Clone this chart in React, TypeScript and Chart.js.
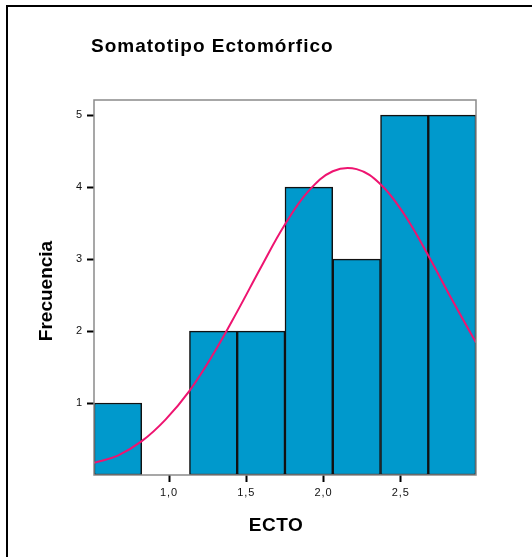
import React, { useEffect, useRef } from 'react';
import { Chart, registerables } from 'chart.js';

Chart.register(...registerables);

const binEdges = [0.514, 0.823, 1.132, 1.441, 1.75, 2.06, 2.369, 2.678, 2.987];
const counts: (number | null)[] = [1, null, 2, 2, 4, 3, 5, 5];
const curveX = [0.514, 0.668, 0.823, 0.977, 1.132, 1.286, 1.441, 1.596, 1.75, 1.905, 2.06, 2.214, 2.369, 2.523, 2.678, 2.833, 2.987];
const curveY = [0.17, 0.27, 0.47, 0.77, 1.17, 1.68, 2.27, 2.89, 3.48, 3.95, 4.22, 4.25, 4.04, 3.62, 3.05, 2.43, 1.84];
const xTicks = [1.0, 1.5, 2.0, 2.5];
const yTicks = [1, 2, 3, 4, 5];
const yMax = 5.21;
const chartTitle = 'Somatotipo Ectomórfico';
const xTitle = 'ECTO';
const yTitle = 'Frecuencia';

const FONT = "'Liberation Sans', Arial, sans-serif";

export default function App() {
  const ref = useRef<HTMLCanvasElement | null>(null);

  useEffect(() => {
    if (!ref.current) return;
    const barData = counts.map((c, i) => ({ x: (binEdges[i] + binEdges[i + 1]) / 2, y: c }));
    const lineData = curveX.map((x, i) => ({ x, y: curveY[i] }));

    const decor = {
      id: 'decor',
      beforeDraw(chart: any) {
        (chart.ctx as any).letterSpacing = '1px';
      },
      afterDraw(chart: any) {
        const ctx = chart.ctx;
        const a = chart.chartArea;
        ctx.save();
        (ctx as any).letterSpacing = '0px';
        // plot frame
        ctx.strokeStyle = '#8a8a8a';
        ctx.lineWidth = 1.5;
        ctx.strokeRect(a.left, a.top, a.right - a.left, a.bottom - a.top);
        // outer frame (left/top)
        ctx.fillStyle = '#000';
        ctx.fillRect(6, 5, 2, 600);
        ctx.fillRect(6, 5, 600, 2);
        // titles
        ctx.fillStyle = '#000';
        ctx.font = `bold 19px ${FONT}`;
        ctx.textAlign = 'left';
        ctx.textBaseline = 'alphabetic';
        (ctx as any).letterSpacing = '1px';
        ctx.fillText(chartTitle, 91, 52);
        (ctx as any).letterSpacing = '0.5px';
        ctx.textAlign = 'center';
        ctx.fillText(xTitle, 276, 531);
        (ctx as any).letterSpacing = '0px';
        ctx.translate(52, 291);
        ctx.rotate(-Math.PI / 2);
        ctx.fillText(yTitle, 0, 0);
        ctx.restore();
        (ctx as any).letterSpacing = '0px';
      },
    };

    const chart = new Chart(ref.current, {
      type: 'bar',
      data: {
        datasets: [
          {
            type: 'line',
            data: lineData,
            borderColor: '#ee1470',
            borderWidth: 2,
            pointRadius: 0,
            tension: 0.4,
            fill: false,
          } as any,
          {
            type: 'bar',
            data: barData as any,
            backgroundColor: '#0099cc',
            borderColor: '#111',
            borderWidth: 1.5,
            borderSkipped: false,
            barPercentage: 1,
            categoryPercentage: 1,
          } as any,
        ],
      },
      options: {
        responsive: false,
        animation: false,
        events: [],
        layout: { padding: { top: 100, right: 56, left: 0, bottom: 0 } },
        plugins: { legend: { display: false }, tooltip: { enabled: false }, title: { display: false } },
        scales: {
          x: {
            type: 'linear',
            min: binEdges[0],
            max: binEdges[binEdges.length - 1],
            offset: false,
            afterFit(scale: any) { scale.height = 82; },
            afterBuildTicks(scale: any) { scale.ticks = xTicks.map((v) => ({ value: v })); },
            grid: { offset: false, drawOnChartArea: false, drawTicks: true, tickLength: 7, tickWidth: 2, tickColor: '#000' },
            border: { display: false },
            ticks: {
              padding: 4,
              color: '#111',
              font: { family: FONT, size: 11 },
              maxRotation: 0,
              callback: (v: any) => Number(v).toFixed(1).replace('.', ','),
            },
          },
          y: {
            type: 'linear',
            min: 0,
            max: yMax,
            afterFit(scale: any) { scale.width = 94; },
            afterBuildTicks(scale: any) { scale.ticks = yTicks.map((v) => ({ value: v })); },
            grid: { drawOnChartArea: false, drawTicks: true, tickLength: 7, tickWidth: 2, tickColor: '#000' },
            border: { display: false },
            ticks: {
              padding: 4,
              color: '#111',
              font: { family: FONT, size: 11 },
              callback: (v: any) => String(v),
            },
          },
        },
      } as any,
      plugins: [decor],
    });
    return () => chart.destroy();
  }, []);

  return (
    <div style={{ position: 'fixed', left: 0, top: 0, width: 532, height: 557, background: '#fff' }}>
      <canvas ref={ref} width={532} height={557} style={{ display: 'block' }} />
    </div>
  );
}
